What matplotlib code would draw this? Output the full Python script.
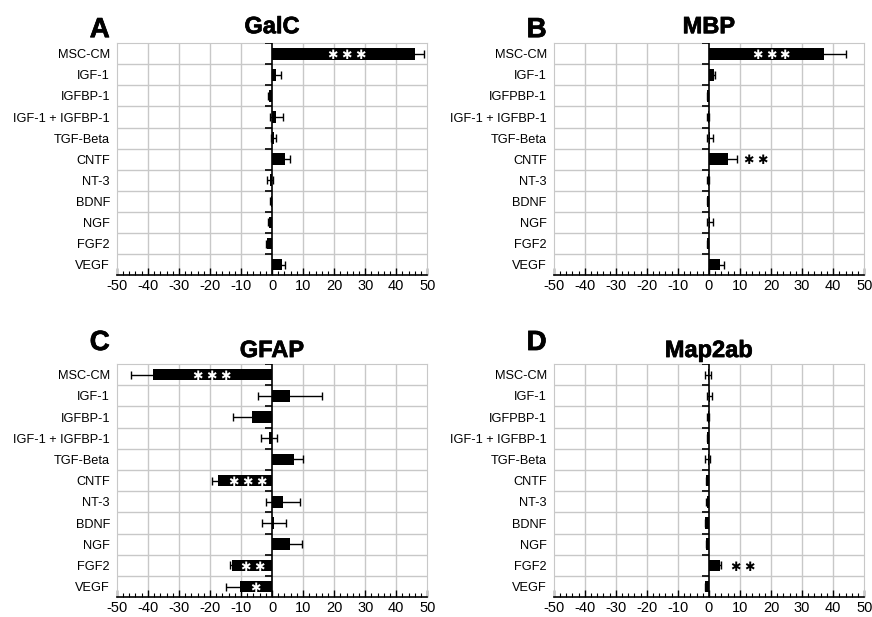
import numpy as np
import matplotlib
matplotlib.use("Agg")
import matplotlib.pyplot as plt
import matplotlib.patheffects as pe
from matplotlib.ticker import MultipleLocator

plt.rcParams['font.family'] = ['Liberation Sans', 'DejaVu Sans']
plt.rcParams['axes.unicode_minus'] = False

labels_a = ["MSC-CM", "IGF-1", "IGFBP-1", "IGF-1 + IGFBP-1", "TGF-Beta", "CNTF",
            "NT-3", "BDNF", "NGF", "FGF2", "VEGF"]
labels_b = ["MSC-CM", "IGF-1", "IGFPBP-1", "IGF-1 + IGFBP-1", "TGF-Beta", "CNTF",
            "NT-3", "BDNF", "NGF", "FGF2", "VEGF"]

# GalC
galc = [45.9, 1.4, -1.0, 1.4, 0.5, 4.2, -0.6, -0.5, -1.0, -1.5, 3.2]
galc_err = [3.0, 1.4, 0.3, 2.0, 0.9, 1.5, 1.0, 0.3, 0.3, 0.3, 1.1]
galc_sig = {0: (3, 24)}

# MBP
mbp = [37.0, 1.5, -0.5, -0.3, 0.3, 6.2, -0.3, -0.5, 0.3, -0.5, 3.5]
mbp_err = [7.0, 0.3, 0.2, 0.2, 1.0, 3.0, 0.2, 0.2, 1.0, 0.2, 1.5]
mbp_sig = {0: (3, 20), 5: (2, 15)}

# GFAP
gfap = [-38.4, 5.7, -6.5, -1.0, 7.1, -17.5, 3.5, 0.7, 5.7, -12.8, -10.4]
gfap_err = [7.2, 10.3, 6.2, 2.7, 2.9, 1.8, 5.4, 3.8, 3.9, 0.9, 4.5]
gfap_sig = {0: (3, -19.5), 5: (3, -8), 9: (2, -6.3), 10: (1, -5.4)}

# Map2ab
map2 = [-0.3, 0.3, -0.3, -0.5, -0.4, -0.8, -0.6, -1.2, -0.8, 3.6, -1.2]
map2_err = [1.0, 0.8, 0.2, 0.2, 0.8, 0.2, 0.2, 0.2, 0.2, 0.2, 0.2]
map2_sig = {9: (2, 10.7)}

fig = plt.figure(figsize=(8.72, 6.17), dpi=100)

# letter, title, labels, values, errors, stars, axes rect, title y, letter y
panels = [
    ("A", "GalC", labels_a, galc, galc_err, galc_sig, [0.134, 0.554, 0.356, 0.376], 1.043, 1.026),
    ("B", "MBP", labels_b, mbp, mbp_err, mbp_sig, [0.635, 0.554, 0.356, 0.376], 1.043, 1.026),
    ("C", "GFAP", labels_a, gfap, gfap_err, gfap_sig, [0.134, 0.032, 0.356, 0.378], 1.03, 1.06),
    ("D", "Map2ab", labels_b, map2, map2_err, map2_sig, [0.635, 0.032, 0.356, 0.378], 1.03, 1.06),
]

heavy = [pe.withStroke(linewidth=0.5, foreground='black')]

for letter, title, labels, vals, errs, sig, pos, ty, ly in panels:
    ax = fig.add_axes(pos)
    y = np.arange(len(labels))
    ax.barh(y, vals, height=0.55, color='black', zorder=3)
    ax.errorbar(vals, y, xerr=errs, fmt='none', ecolor='black', elinewidth=1,
                capsize=2.7, capthick=1, zorder=2)
    ax.set_xlim(-50, 50)
    ax.set_ylim(len(labels) - 0.5, -0.5)
    ax.set_yticks(y)
    ax.set_yticklabels(labels, fontsize=9.2)
    ax.tick_params(axis='y', length=0, pad=5)
    ax.set_xticks(np.arange(-50, 51, 10))
    ax.xaxis.set_minor_locator(MultipleLocator(2))
    ax.tick_params(axis='x', which='major', direction='in', length=5, width=1,
                   labelsize=10.5, pad=3)
    ax.tick_params(axis='x', which='minor', direction='in', length=3, width=0.8)

    # grid
    for gx in np.arange(-40, 50, 10):
        if gx != 0:
            ax.axvline(gx, color='#c8c8c8', lw=1, zorder=0)
    for gy in np.arange(0.5, len(labels) - 0.5, 1):
        ax.axhline(gy, color='#c8c8c8', lw=1, zorder=0)
    for s in ['top', 'left', 'right']:
        ax.spines[s].set_color('#c8c8c8')
    ax.spines['bottom'].set_color('black')
    ax.spines['bottom'].set_linewidth(1.2)

    # zero axis with category ticks
    ax.axvline(0, color='black', lw=1.2, zorder=4)
    ax.hlines(np.arange(-0.5, len(labels) - 0.5, 1), -2.3, 0, color='black',
              lw=1.2, zorder=4)

    # significance stars
    for idx, (n, sx) in sig.items():
        inside = (vals[idx] > 0 and 0 < sx < vals[idx]) or (vals[idx] < 0 and vals[idx] < sx < 0)
        for k in range(n):
            ax.annotate("\u2731", xy=(sx, idx), xytext=((k - (n - 1) / 2) * 10, -1.2),
                        textcoords='offset points', ha='center', va='center',
                        fontsize=9, family='DejaVu Sans',
                        color='white' if inside else 'black', zorder=5)

    ax.text(0.5, ty, title, transform=ax.transAxes, ha='center', va='baseline',
            fontsize=17, fontweight='bold', path_effects=heavy)
    ax.text(-0.023, ly, letter, transform=ax.transAxes, ha='right', va='baseline',
            fontsize=20, fontweight='bold', path_effects=heavy)

fig.savefig("out.png", dpi=100)
